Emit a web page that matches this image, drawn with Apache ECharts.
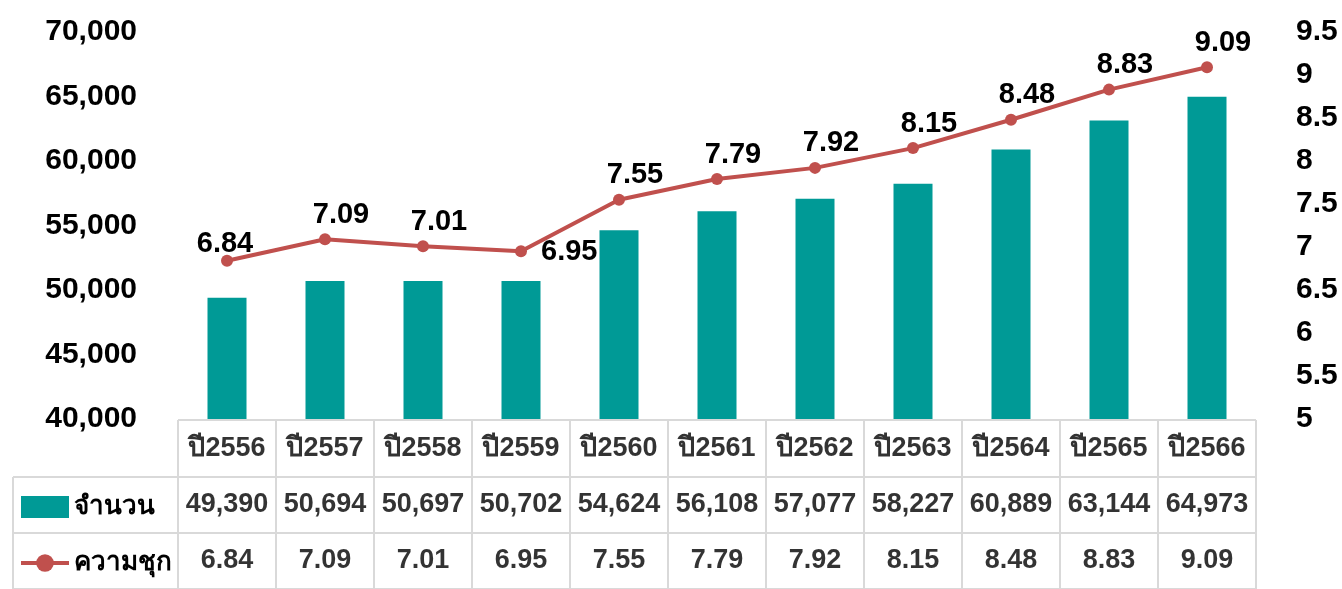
<!DOCTYPE html>
<html><head><meta charset="utf-8">
<script src="https://cdn.jsdelivr.net/npm/echarts@6/dist/echarts.min.js"></script>
<style>html,body{margin:0;padding:0;background:#fff}#c{width:1342px;height:589px}</style>
</head><body><div id="c"></div>
<script>
const categories = ['ปี2556','ปี2557','ปี2558','ปี2559','ปี2560','ปี2561','ปี2562','ปี2563','ปี2564','ปี2565','ปี2566'];
const countValues = [49390,50694,50697,50702,54624,56108,57077,58227,60889,63144,64973];
const prevalenceValues = [6.84,7.09,7.01,6.95,7.55,7.79,7.92,8.15,8.48,8.83,9.09];
const countName = 'จำนวน';
const prevalenceName = 'ความชุก';

const FONT = '"Liberation Sans", Arial, "Noto Sans", "DejaVu Sans", sans-serif';
const TEAL = '#009a96';
const RED = '#c0504d';
const GRIDLINE = '#d9d9d9';
const rightLabelIndex = 3;

// table cells
const tableCells = [];
categories.forEach((c, i) => {
  tableCells.push({ value: [i, 0], text: c });
  tableCells.push({ value: [i, 1], text: countValues[i].toLocaleString('en-US') });
  tableCells.push({ value: [i, 2], text: prevalenceValues[i].toFixed(2) });
});

const lineData = prevalenceValues.map((v, i) => {
  if (i === rightLabelIndex) return { value: v, label: { position: 'right', distance: 14, offset: [0, 1] } };
  if (i === 0) return { value: v, label: { offset: [-2, 8] } };
  return v;
});

const chart = echarts.init(document.getElementById('c'), null, { renderer: 'canvas' });
const hiddenAxis = { show: true, axisLine: { show: false }, axisTick: { show: false }, axisLabel: { show: false } };
chart.setOption({
  animation: false,
  textStyle: { fontFamily: FONT },
  grid: [
    { left: 178, right: 86, top: 32, bottom: 170 },
    { left: 178, right: 86, top: 420, bottom: -2 },
    { left: 13, width: 165, top: 477, bottom: -2 }
  ],
  legend: {
    orient: 'vertical', left: 14, top: 489, itemGap: 30,
    itemWidth: 48, itemHeight: 22,
    textStyle: { fontSize: 26, fontWeight: 'bold', color: '#000', fontFamily: FONT },
    data: [
      { name: countName, icon: 'rect' },
      { name: prevalenceName }
    ],
    lineStyle: { width: 4 }
  },
  xAxis: [
    { type: 'category', gridIndex: 0, data: categories, show: false },
    Object.assign({ type: 'category', gridIndex: 1, data: categories,
      splitLine: { show: true, lineStyle: { color: GRIDLINE, width: 2 } } }, hiddenAxis),
    Object.assign({ type: 'category', gridIndex: 2, data: [''],
      splitLine: { show: true, lineStyle: { color: GRIDLINE, width: 2 } } }, hiddenAxis)
  ],
  yAxis: [
    { type: 'value', gridIndex: 0, min: 40000, max: 70000, interval: 5000,
      splitLine: { show: false }, axisLine: { show: false }, axisTick: { show: false },
      axisLabel: { margin: 41, fontSize: 30, fontWeight: 'bold', color: '#000',
        formatter: v => v.toLocaleString('en-US') } },
    { type: 'value', gridIndex: 0, min: 5, max: 9.5, interval: 0.5, position: 'right',
      splitLine: { show: false }, axisLine: { show: false }, axisTick: { show: false },
      axisLabel: { margin: 40, fontSize: 30, fontWeight: 'bold', color: '#000' } },
    Object.assign({ type: 'category', gridIndex: 1, data: ['0','1','2'], inverse: true,
      splitLine: { show: true, lineStyle: { color: GRIDLINE, width: 2 } } }, hiddenAxis),
    Object.assign({ type: 'category', gridIndex: 2, data: ['0','1'], inverse: true,
      splitLine: { show: true, lineStyle: { color: GRIDLINE, width: 2 } } }, hiddenAxis)
  ],
  series: [
    { name: countName, type: 'bar', xAxisIndex: 0, yAxisIndex: 0, data: countValues,
      barWidth: 39, itemStyle: { color: TEAL } },
    { name: prevalenceName, type: 'line', xAxisIndex: 0, yAxisIndex: 1,
      data: lineData,
      symbol: 'circle', symbolSize: 12,
      lineStyle: { color: RED, width: 4 }, itemStyle: { color: RED },
      label: { show: true, position: 'top', distance: 4, offset: [16, 0], fontSize: 29, fontWeight: 'bold', color: '#000',
        formatter: p => p.value.toFixed(2) } },
    { name: 'table', type: 'scatter', xAxisIndex: 1, yAxisIndex: 2, silent: true,
      symbolSize: 1, itemStyle: { color: 'rgba(0,0,0,0)' },
      data: tableCells,
      label: { show: true, position: 'inside', fontSize: 27, fontWeight: 'bold', color: '#000',
        formatter: p => p.data.text } }
  ]
});
</script></body></html>
